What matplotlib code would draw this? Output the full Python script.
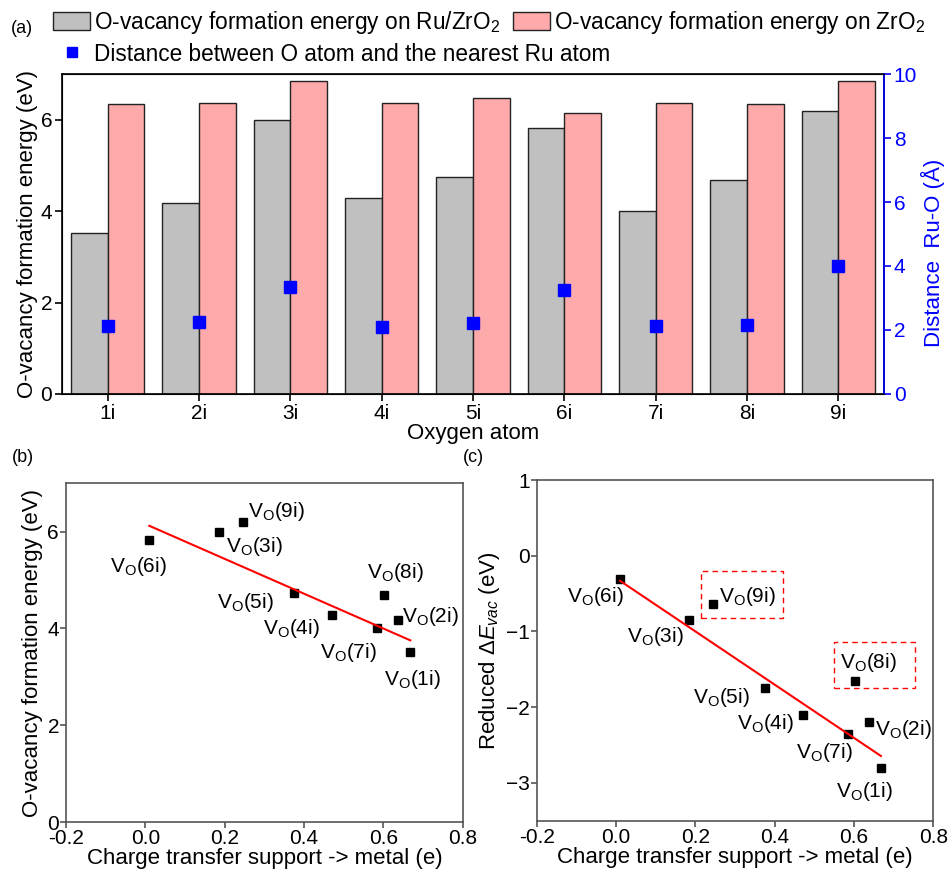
import numpy as np
import matplotlib.pyplot as plt
from matplotlib.patches import Rectangle

plt.rcParams['font.family'] = ['Liberation Sans', 'DejaVu Sans']
plt.rcParams['mathtext.fontset'] = 'custom'
plt.rcParams['mathtext.rm'] = 'Liberation Sans'
plt.rcParams['mathtext.it'] = 'Liberation Sans:italic'

# datos
sitios = ["1i", "2i", "3i", "4i", "5i", "6i", "7i", "8i", "9i"]
e_ru_zro2 = [3.52, 4.18, 5.99, 4.28, 4.74, 5.83, 4.01, 4.69, 6.20]
e_zro2 = [6.34, 6.37, 6.85, 6.37, 6.48, 6.15, 6.37, 6.34, 6.85]
dist_ru_o = [2.13, 2.25, 3.33, 2.10, 2.23, 3.24, 2.12, 2.15, 3.99]
carga = [0.668, 0.638, 0.185, 0.471, 0.376, 0.010, 0.585, 0.602, 0.245]
e_reducida = [-2.81, -2.20, -0.855, -2.10, -1.75, -0.31, -2.36, -1.65, -0.64]
excluidos = ["8i", "9i"]

# desplazamientos de etiquetas (pixeles)
off_b = {"1i": (2, -28), "2i": (32, 3), "3i": (36, -14), "4i": (-41, -14), "5i": (-49, -10),
         "6i": (-11, -27), "7i": (-29, -25), "8i": (11, 23), "9i": (34, 10)}
off_c = {"1i": (-17, -23), "2i": (34, -7), "3i": (-34, -16), "4i": (-37, -9), "5i": (-44, -9),
         "6i": (-25, -17), "7i": (-24, -18), "8i": (14, 18), "9i": (34, 8)}

fs_tick = 15
fs_xlab = 16
fs_ylab = 16
fs_leg = 16.3
fs_v = 15

fig = plt.figure(figsize=(9.5, 8.72), dpi=100)

# ---- (a)
ax1 = fig.add_axes([0.0653, 0.5482, 0.8652, 0.3669])
x = np.arange(len(sitios))
w = 0.4
b1 = ax1.bar(x - w / 2, e_ru_zro2, w, color="#c0c0c0", edgecolor="#222222", linewidth=1)
b2 = ax1.bar(x + w / 2, e_zro2, w, color="#ffaaaa", edgecolor="#222222", linewidth=1)
ax1.set_xlim(-0.5, 8.5)
ax1.set_ylim(0, 7)
ax1.set_yticks([0, 2, 4, 6])
ax1.set_xticks(x)
ax1.set_xticklabels(sitios)
ax1.set_xlabel("Oxygen atom", fontsize=fs_xlab, labelpad=0)
ax1.set_ylabel("O-vacancy formation energy (eV)", fontsize=fs_ylab, labelpad=2)
ax1.tick_params(labelsize=fs_tick, direction="out", length=5, width=1.2, pad=2,
                top=False, right=False)
for s in ax1.spines.values():
    s.set_linewidth(1.2)

ax2 = ax1.twinx()
m, = ax2.plot(x, dist_ru_o, "s", color="#0000ff", markersize=8, linestyle="none")
ax2.set_ylim(0, 10)
ax2.set_yticks([0, 2, 4, 6, 8, 10])
ax2.set_ylabel("Distance  Ru-O (Å)", color="#0000ff", fontsize=fs_ylab)
ax2.yaxis.set_label_coords(1.045, 0.44)
ax2.tick_params(axis="y", colors="#0000ff", labelsize=fs_tick, length=5, width=1.2, pad=2)
ax2.spines["right"].set_color("#0000ff")
ax2.spines["right"].set_linewidth(1.2)

kw = dict(loc="upper left", frameon=False, fontsize=fs_leg, handlelength=1.65,
          handleheight=0.85, handletextpad=0.15, labelspacing=0.3,
          borderpad=0, borderaxespad=0, markerscale=0.9)
fig.legend([b1, m],
           ["O-vacancy formation energy on Ru/ZrO$_2$",
            "Distance between O atom and the nearest Ru atom"],
           bbox_to_anchor=(53 / 950, 1 - 9 / 872), **kw)
fig.legend([b2], ["O-vacancy formation energy on ZrO$_2$"],
           bbox_to_anchor=(513 / 950, 1 - 9 / 872), **kw)

fig.text(0.011, 0.962, "(a)", fontsize=13)
fig.text(0.013, 0.47, "(b)", fontsize=13)
fig.text(0.487, 0.47, "(c)", fontsize=13)


def panel(ax, yv, offs, ylim, yticks, ylabel):
    xs = np.array(carga)
    ys = np.array(yv)
    ax.plot(xs, ys, "s", color="black", markersize=6, linestyle="none")
    mask = np.array([s not in excluidos for s in sitios])
    k, c = np.polyfit(xs[mask], ys[mask], 1)
    xl = np.array([xs.min(), xs.max()])
    ax.plot(xl, k * xl + c, color="red", linewidth=1.5)
    for s, xi, yi in zip(sitios, xs, ys):
        ax.annotate("V$_\\mathrm{O}$(" + s + ")", (xi, yi), xytext=offs[s],
                    textcoords="offset pixels", ha="center", va="center", fontsize=fs_v)
    ax.set_xlim(-0.2, 0.8)
    ax.set_xticks([-0.2, 0.0, 0.2, 0.4, 0.6, 0.8])
    ax.set_xticklabels(["-0.2", "0.0", "0.2", "0.4", "0.6", "0.8"])
    ax.set_ylim(*ylim)
    ax.set_yticks(yticks)
    ax.set_xlabel("Charge transfer support -> metal (e)", fontsize=fs_xlab, labelpad=0)
    ax.set_ylabel(ylabel, fontsize=fs_ylab, labelpad=3)
    ax.tick_params(labelsize=fs_tick, direction="out", length=4, width=1.2, pad=1,
                   color="#555555")
    for sp in ax.spines.values():
        sp.set_color("#555555")
        sp.set_linewidth(1.2)


# ---- (b)
axb = fig.add_axes([0.0695, 0.0573, 0.4175, 0.3885])
panel(axb, e_ru_zro2, off_b, (0, 7), [0, 2, 4, 6], "O-vacancy formation energy (eV)")

# ---- (c)
axc = fig.add_axes([0.565, 0.0588, 0.4174, 0.3907])
panel(axc, e_reducida, off_c, (-3.5, 1), [-3, -2, -1, 0, 1],
      "Reduced $\\mathit{\\Delta E}_{vac}$ (eV)")
for (x0, y0, x1, y1) in [(0.213, -0.82, 0.420, -0.20), (0.55, -1.75, 0.755, -1.135)]:
    axc.add_patch(Rectangle((x0, y0), x1 - x0, y1 - y0, fill=False, edgecolor="red",
                            linestyle=(0, (4, 3)), linewidth=1.0))

fig.savefig("out.png", dpi=100)
